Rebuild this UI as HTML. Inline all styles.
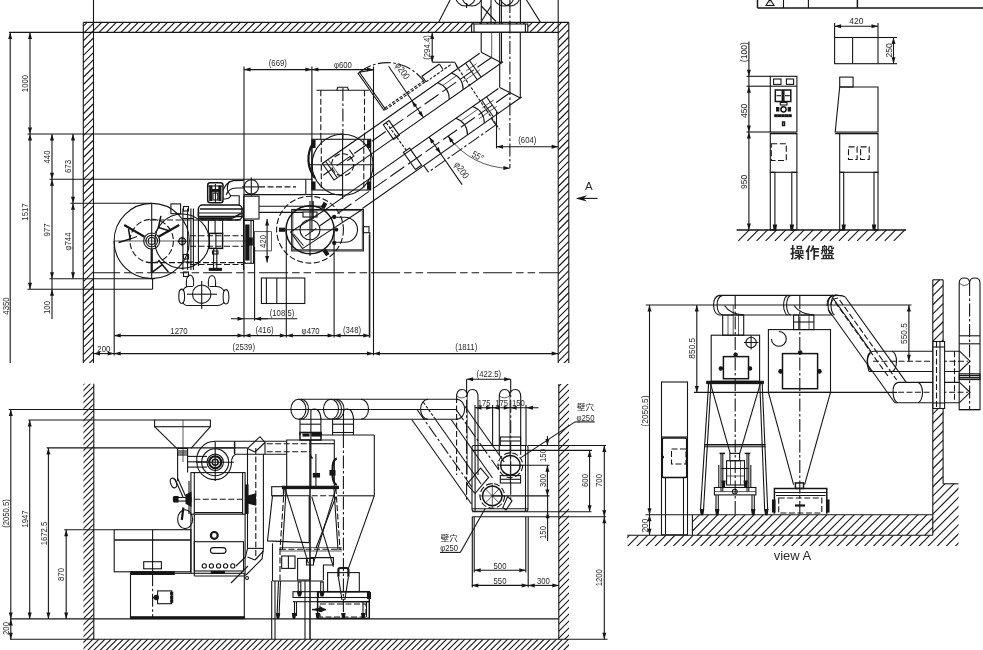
<!DOCTYPE html>
<html lang="ja"><head><meta charset="utf-8"><title>layout</title><style>
html,body{margin:0;padding:0;background:#fff}
svg{display:block;font-size:8px;will-change:transform}
path,rect,circle,ellipse{fill:none;stroke:#161616;stroke-width:1.1}
text{font-family:"Liberation Sans","Noto Sans CJK JP",sans-serif;fill:#2a2a2a;text-anchor:middle}
.a{fill:#161616;stroke:none}
.h{stroke-width:1.1}
.t{stroke-width:.7}
.b{stroke-width:1.5}
.bb{stroke-width:2.2}
.k{fill:#161616}
.d{stroke-dasharray:6 2.5}
.dd{stroke-dasharray:3 1.5}
.cl{stroke-dasharray:13 2.5 2.5 2.5}
.c2{stroke-dasharray:17 4.5}
.w{fill:#fff}
.m{font-weight:700;letter-spacing:.9px}
</style></head><body>
<svg width="983" height="650" viewBox="0 0 983 650">
<g style="font-size:9.6px">
<clipPath id="c1"><path d="M83.3 22.4L568.8 22.4L568.8 32.4L83.3 32.4Z"/></clipPath>
<path d="M68.8 33.4L80.8 21.4M76.1 33.4L88.1 21.4M83.4 33.4L95.4 21.4M90.7 33.4L102.7 21.4M98 33.4L110 21.4M105.3 33.4L117.3 21.4M112.6 33.4L124.6 21.4M119.9 33.4L131.9 21.4M127.2 33.4L139.2 21.4M134.5 33.4L146.5 21.4M141.8 33.4L153.8 21.4M149.1 33.4L161.1 21.4M156.4 33.4L168.4 21.4M163.7 33.4L175.7 21.4M171 33.4L183 21.4M178.3 33.4L190.3 21.4M185.6 33.4L197.6 21.4M192.9 33.4L204.9 21.4M200.2 33.4L212.2 21.4M207.5 33.4L219.5 21.4M214.8 33.4L226.8 21.4M222.1 33.4L234.1 21.4M229.4 33.4L241.4 21.4M236.7 33.4L248.7 21.4M244 33.4L256 21.4M251.3 33.4L263.3 21.4M258.6 33.4L270.6 21.4M265.9 33.4L277.9 21.4M273.2 33.4L285.2 21.4M280.5 33.4L292.5 21.4M287.8 33.4L299.8 21.4M295.1 33.4L307.1 21.4M302.4 33.4L314.4 21.4M309.7 33.4L321.7 21.4M317 33.4L329 21.4M324.3 33.4L336.3 21.4M331.6 33.4L343.6 21.4M338.9 33.4L350.9 21.4M346.2 33.4L358.2 21.4M353.5 33.4L365.5 21.4M360.8 33.4L372.8 21.4M368.1 33.4L380.1 21.4M375.4 33.4L387.4 21.4M382.7 33.4L394.7 21.4M390 33.4L402 21.4M397.3 33.4L409.3 21.4M404.6 33.4L416.6 21.4M411.9 33.4L423.9 21.4M419.2 33.4L431.2 21.4M426.5 33.4L438.5 21.4M433.8 33.4L445.8 21.4M441.1 33.4L453.1 21.4M448.4 33.4L460.4 21.4M455.7 33.4L467.7 21.4M463 33.4L475 21.4M470.3 33.4L482.3 21.4M477.6 33.4L489.6 21.4M484.9 33.4L496.9 21.4M492.2 33.4L504.2 21.4M499.5 33.4L511.5 21.4M506.8 33.4L518.8 21.4M514.1 33.4L526.1 21.4M521.4 33.4L533.4 21.4M528.7 33.4L540.7 21.4M536 33.4L548 21.4M543.3 33.4L555.3 21.4M550.6 33.4L562.6 21.4M557.9 33.4L569.9 21.4M565.2 33.4L577.2 21.4M572.5 33.4L584.5 21.4" class="h" clip-path="url(#c1)"/>
<clipPath id="c2"><path d="M83.3 32.4L93.5 32.4L93.5 363L83.3 363Z"/></clipPath>
<path d="M-254.5 364L78.1 31.4M-247.2 364L85.4 31.4M-239.9 364L92.7 31.4M-232.6 364L100 31.4M-225.3 364L107.3 31.4M-218 364L114.6 31.4M-210.7 364L121.9 31.4M-203.4 364L129.2 31.4M-196.1 364L136.5 31.4M-188.8 364L143.8 31.4M-181.5 364L151.1 31.4M-174.2 364L158.4 31.4M-166.9 364L165.7 31.4M-159.6 364L173 31.4M-152.3 364L180.3 31.4M-145 364L187.6 31.4M-137.7 364L194.9 31.4M-130.4 364L202.2 31.4M-123.1 364L209.5 31.4M-115.8 364L216.8 31.4M-108.5 364L224.1 31.4M-101.2 364L231.4 31.4M-93.9 364L238.7 31.4M-86.6 364L246 31.4M-79.3 364L253.3 31.4M-72 364L260.6 31.4M-64.7 364L267.9 31.4M-57.4 364L275.2 31.4M-50.1 364L282.5 31.4M-42.8 364L289.8 31.4M-35.5 364L297.1 31.4M-28.2 364L304.4 31.4M-20.9 364L311.7 31.4M-13.6 364L319 31.4M-6.3 364L326.3 31.4M1 364L333.6 31.4M8.3 364L340.9 31.4M15.6 364L348.2 31.4M22.9 364L355.5 31.4M30.2 364L362.8 31.4M37.5 364L370.1 31.4M44.8 364L377.4 31.4M52.1 364L384.7 31.4M59.4 364L392 31.4M66.7 364L399.3 31.4M74 364L406.6 31.4M81.3 364L413.9 31.4M88.6 364L421.2 31.4M95.9 364L428.5 31.4" class="h" clip-path="url(#c2)"/>
<clipPath id="c3"><path d="M558.2 32.4L568.8 32.4L568.8 363L558.2 363Z"/></clipPath>
<path d="M220 364L552.6 31.4M227.3 364L559.9 31.4M234.6 364L567.2 31.4M241.9 364L574.5 31.4M249.2 364L581.8 31.4M256.5 364L589.1 31.4M263.8 364L596.4 31.4M271.1 364L603.7 31.4M278.4 364L611 31.4M285.7 364L618.3 31.4M293 364L625.6 31.4M300.3 364L632.9 31.4M307.6 364L640.2 31.4M314.9 364L647.5 31.4M322.2 364L654.8 31.4M329.5 364L662.1 31.4M336.8 364L669.4 31.4M344.1 364L676.7 31.4M351.4 364L684 31.4M358.7 364L691.3 31.4M366 364L698.6 31.4M373.3 364L705.9 31.4M380.6 364L713.2 31.4M387.9 364L720.5 31.4M395.2 364L727.8 31.4M402.5 364L735.1 31.4M409.8 364L742.4 31.4M417.1 364L749.7 31.4M424.4 364L757 31.4M431.7 364L764.3 31.4M439 364L771.6 31.4M446.3 364L778.9 31.4M453.6 364L786.2 31.4M460.9 364L793.5 31.4M468.2 364L800.8 31.4M475.5 364L808.1 31.4M482.8 364L815.4 31.4M490.1 364L822.7 31.4M497.4 364L830 31.4M504.7 364L837.3 31.4M512 364L844.6 31.4M519.3 364L851.9 31.4M526.6 364L859.2 31.4M533.9 364L866.5 31.4M541.2 364L873.8 31.4M548.5 364L881.1 31.4M555.8 364L888.4 31.4M563.1 364L895.7 31.4M570.4 364L903 31.4" class="h" clip-path="url(#c3)"/>
<path d="M83.3 22.4L568.8 22.4"/>
<path d="M9 32.4L558.2 32.4"/>
<path d="M83.3 22.4L83.3 363"/>
<path d="M93.5 0L93.5 363"/>
<path d="M568.8 22.4L568.8 363"/>
<path d="M558.2 0L558.2 363"/>
<path d="M10.2 32.4L10.2 363"/>
<path d="M10.2 32.4L12.2 38.9L8.2 38.9Z" class="a"/>
<text transform="translate(8 306) rotate(-90) scale(0.81 1)" y="0.6">4350</text>
<path d="M30 32.4L30 134"/>
<path d="M30 32.4L32 38.9L28 38.9Z" class="a"/>
<path d="M30 134L28 127.5L32 127.5Z" class="a"/>
<text transform="translate(27.3 83.5) rotate(-90) scale(0.81 1)" y="0.6">1000</text>
<path d="M30 134L30 289.2"/>
<path d="M30 134L32 140.5L28 140.5Z" class="a"/>
<path d="M30 289.2L28 282.7L32 282.7Z" class="a"/>
<text transform="translate(27.3 212) rotate(-90) scale(0.81 1)" y="0.6">1517</text>
<path d="M52 134L52 179.3"/>
<path d="M52 134L54 140.5L50 140.5Z" class="a"/>
<path d="M52 179.3L50 172.8L54 172.8Z" class="a"/>
<text transform="translate(49.3 157) rotate(-90) scale(0.81 1)" y="0.6">440</text>
<path d="M52 179.3L52 278.8"/>
<path d="M52 179.3L54 185.8L50 185.8Z" class="a"/>
<path d="M52 278.8L50 272.3L54 272.3Z" class="a"/>
<text transform="translate(49.3 230) rotate(-90) scale(0.81 1)" y="0.6">977</text>
<path d="M52 278.8L52 319"/>
<path d="M52 289.2L54 295.7L50 295.7Z" class="a"/>
<text transform="translate(49.3 307.5) rotate(-90) scale(0.81 1)" y="0.6">100</text>
<path d="M73 134L73 203.3"/>
<path d="M73 134L75 140.5L71 140.5Z" class="a"/>
<path d="M73 203.3L71 196.8L75 196.8Z" class="a"/>
<text transform="translate(70.3 166.5) rotate(-90) scale(0.81 1)" y="0.6">673</text>
<path d="M73 203.3L73 278.8"/>
<path d="M73 203.3L75 209.8L71 209.8Z" class="a"/>
<path d="M73 278.8L71 272.3L75 272.3Z" class="a"/>
<text transform="translate(70.3 241.5) rotate(-90) scale(0.81 1)" y="0.6">φ744</text>
<path d="M27.5 134L343 134"/>
<path d="M49.5 179.3L312 179.3"/>
<path d="M70.5 203.3L151.7 203.3"/>
<path d="M49.5 278.8L155 278.8"/>
<path d="M27.5 289.2L152.6 289.2"/>
<path d="M152.6 278.8L152.6 289.2"/>
<path d="M114.2 241L114.2 355.5"/>
<path d="M244 66.6L244 337.5"/>
<path d="M254.6 247L254.6 320.5"/>
<path d="M286.3 230L286.3 337.5"/>
<path d="M334.1 230L334.1 337.5"/>
<path d="M369.8 232L369.8 337.5"/>
<path d="M373.5 66.5L373.5 355.5"/>
<path d="M114.2 335.6L244 335.6"/>
<path d="M114.2 335.6L120.7 333.6L120.7 337.6Z" class="a"/>
<path d="M244 335.6L237.5 337.6L237.5 333.6Z" class="a"/>
<text transform="translate(179 333.3) scale(0.81 1)" y="0.6">1270</text>
<path d="M244 335.6L286.3 335.6"/>
<path d="M244 335.6L250.5 333.6L250.5 337.6Z" class="a"/>
<path d="M286.3 335.6L279.8 337.6L279.8 333.6Z" class="a"/>
<text transform="translate(264.5 332.3) scale(0.81 1)" y="0.6">(416)</text>
<path d="M286.3 335.6L334.1 335.6"/>
<path d="M286.3 335.6L292.8 333.6L292.8 337.6Z" class="a"/>
<path d="M334.1 335.6L327.6 337.6L327.6 333.6Z" class="a"/>
<text transform="translate(310.6 333.3) scale(0.81 1)" y="0.6">φ470</text>
<path d="M334.1 335.6L369.8 335.6"/>
<path d="M334.1 335.6L340.6 333.6L340.6 337.6Z" class="a"/>
<path d="M369.8 335.6L363.3 337.6L363.3 333.6Z" class="a"/>
<text transform="translate(352 332.3) scale(0.81 1)" y="0.6">(348)</text>
<path d="M93.5 353.6L114.2 353.6"/>
<path d="M93.5 353.6L100 351.6L100 355.6Z" class="a"/>
<path d="M114.2 353.6L107.7 355.6L107.7 351.6Z" class="a"/>
<text transform="translate(103.8 351.5) scale(0.81 1)" y="0.6">200</text>
<path d="M114.2 353.6L373.5 353.6"/>
<path d="M114.2 353.6L120.7 351.6L120.7 355.6Z" class="a"/>
<path d="M373.5 353.6L367 355.6L367 351.6Z" class="a"/>
<text transform="translate(243.8 349.8) scale(0.81 1)" y="0.6">(2539)</text>
<path d="M373.5 353.6L558.2 353.6"/>
<path d="M373.5 353.6L380 351.6L380 355.6Z" class="a"/>
<path d="M558.2 353.6L551.7 355.6L551.7 351.6Z" class="a"/>
<text transform="translate(466.3 349.8) scale(0.81 1)" y="0.6">(1811)</text>
<path d="M231 318.8L267.6 318.8"/>
<path d="M244 318.8L237.5 320.8L237.5 316.8Z" class="a"/>
<path d="M254.6 318.8L261.1 316.8L261.1 320.8Z" class="a"/>
<path d="M254.6 318.8L297.3 318.8"/>
<text transform="translate(282 315.3) scale(0.81 1)" y="0.6">(108.5)</text>
<path d="M311.9 66.5L311.9 232"/>
<path d="M244 69.6L311.9 69.6"/>
<path d="M244 69.6L250.5 67.6L250.5 71.6Z" class="a"/>
<path d="M311.9 69.6L305.4 71.6L305.4 67.6Z" class="a"/>
<text transform="translate(277.8 65.7) scale(0.81 1)" y="0.6">(669)</text>
<path d="M311.9 69.6L373.5 69.6"/>
<path d="M311.9 69.6L318.4 67.6L318.4 71.6Z" class="a"/>
<path d="M373.5 69.6L367 71.6L367 67.6Z" class="a"/>
<text transform="translate(342.9 67.8) scale(0.81 1)" y="0.6">φ600</text>
<path d="M93.5 272.8H558.2" stroke-dasharray="29 4 7.5 4 7.5 4" stroke-dashoffset="2.4"/>
<path d="M578 198.4L597.5 198.4"/>
<path d="M575.7 198.4L587 195.2L583.5 198.4L587 201.6Z" class="a"/>
<text transform="translate(588.9 189.8)" style="font-size:11.5px">A</text>
<rect x="471.6" y="24" width="56.2" height="8.1" class="w"/>
<path d="M474 24L474 32.1"/>
<path d="M525.4 24L525.4 32.1"/>
<path d="M481.2 32.4L481.2 52.3"/>
<path d="M501.5 32.4L501.5 62.8"/>
<path d="M491.7 32.4L491.7 57.5" class="t"/>
<path d="M499.7 32.4L499.7 87.4"/>
<path d="M520.3 32.4L520.3 98"/>
<path d="M509.9 0L509.9 168" class="cl"/>
<path d="M481.2 52.3L501.5 62.8"/>
<path d="M499.7 87.4L520.3 98"/>
<path d="M479.7 53.3L322.4 163.5L334 180.1L503 61.8"/>
<path d="M491.4 57.5L323.3 175.2" class="c2"/>
<path d="M325.6 161.2L337.3 177.8"/>
<path d="M328.1 159.5L339.7 176.1" class="t"/>
<path d="M347.3 160.8L353.9 156.2L349.3 149.7"/>
<path d="M498.4 88.5L324 210.6"/>
<path d="M521.6 97L362.4 208.5"/>
<path d="M510 92.8L305.2 236.1" class="c2"/>
<path d="M451.5 73Q463.1 77.3 463.2 89.7"/>
<path d="M437.6 82.8Q449.2 87.1 449.3 99.4"/>
<path d="M456.9 75.5L443 85.3" class="t"/>
<path d="M472.6 106.5Q484.2 110.8 484.3 123.1"/>
<path d="M455.8 118.3Q467.4 122.6 467.5 134.9"/>
<path d="M478.1 109L461.3 120.8" class="t"/>
<path d="M469.5 60.5L481.1 77.1"/>
<path d="M465.6 63.2L477.3 79.8"/>
<path d="M476.6 63.6L466.2 70.9" class="t"/>
<path d="M479.8 69.9L462.8 81.8" class="t"/>
<path d="M486.5 96.8L498.1 113.5"/>
<path d="M481.7 100.2L493.4 116.8"/>
<path d="M493.6 100L482.3 107.9" class="t"/>
<path d="M496.8 106.3L478.9 118.8" class="t"/>
<path d="M399.4 135.4L393.6 139.4L383.3 124.7L389 120.6Z"/>
<path d="M421.5 165.2L415.4 169.5L403.4 152.4L409.6 148.1Z"/>
<path d="M491.2 118.3L495.9 124.9"/>
<path d="M423.8 165.5L428.4 172.1"/>
<path d="M495.9 124.9L428.4 172.1" class="cl"/>
<path d="M456 65.2L499.5 129.4" class="dd"/>
<path d="M386.2 122.7L406.5 150.6" class="dd"/>
<path d="M439.4 64L422 76.2L426 81.9"/>
<path d="M426 81.9L451.7 64" class="dd"/>
<path d="M439.4 64L443 69.5"/>
<path d="M432.2 62.2L454.8 62.2"/>
<path d="M454.8 62.2L457.8 67.7"/>
<path d="M385.7 109.6L425.3 81.8" class="dd"/>
<path d="M384.7 108.2L424.3 80.4" class="dd"/>
<path d="M432.2 32.4L432.2 62.2"/>
<path d="M432.2 32.4L434.2 38.9L430.2 38.9Z" class="a"/>
<path d="M432.2 62.2L430.2 55.7L434.2 55.7Z" class="a"/>
<text transform="translate(429.8 47.5) rotate(-90) scale(0.81 1)" y="0.6">(294.4)</text>
<path d="M359.5 72.3L385.4 109.2L384 110.2L358.1 73.3Z"/>
<path d="M359.5 72.3L373.5 69.6"/>
<path d="M359.5 72.3 A 45 45 0 0 1 424 81.5" class="cl"/>
<path d="M388.6 66.2L423.4 117.5"/>
<path d="M411.8 100.9L417.2 105L413.9 107.3Z" class="a"/>
<path d="M423.4 117.5L418.1 113.3L421.4 111Z" class="a"/>
<text transform="translate(400.3 72.3) rotate(55) scale(0.81 1)" y="0.6">φ200</text>
<path d="M429.1 137L462.1 184.6"/>
<path d="M429.1 137L434.5 141.2L431.2 143.4Z" class="a"/>
<path d="M440.8 153.6L435.4 149.4L438.7 147.1Z" class="a"/>
<text transform="translate(459.5 171.5) rotate(55) scale(0.81 1)" y="0.6">φ200</text>
<path d="M448.2 136.1 A 75.5 75.5 0 0 0 509.9 168.3" class="t"/>
<path d="M509.9 168.3L503.3 170L503.5 166Z" class="a"/>
<path d="M448.2 136.1L453.5 140.2L450.2 142.5Z" class="a"/>
<path d="M448.2 136.1L454.2 144.6"/>
<text transform="translate(476.5 158.5) rotate(28) scale(0.81 1)" y="0.6">55°</text>
<path d="M496.5 112L496.5 148.4"/>
<path d="M496.5 146.7L558.2 146.7"/>
<path d="M496.5 146.7L503 144.7L503 148.7Z" class="a"/>
<path d="M558.2 146.7L551.7 148.7L551.7 144.7Z" class="a"/>
<text transform="translate(527.3 142.6) scale(0.81 1)" y="0.6">(604)</text>
<path d="M450.1 0L438.5 22.4"/>
<path d="M526.5 0L540.5 22.4"/>
<circle cx="465.5" cy="-4" r="10"/>
<circle cx="472" cy="-4" r="10"/>
<circle cx="510" cy="-4" r="10"/>
<circle cx="504" cy="-4" r="10"/>
<path d="M481.3 0L481.3 24"/>
<path d="M491 0L491 24"/>
<path d="M499.6 0L499.6 24"/>
<path d="M501.4 0L501.4 24"/>
<path d="M520.4 0L520.4 24"/>
<path d="M466.6 3L466.6 8"/>
<path d="M481.3 6L496 21.5"/>
<path d="M491 6L481.3 21.5"/>
<circle cx="342.6" cy="164.7" r="30.5"/>
<rect x="311.9" y="139.3" width="58.8" height="50.7"/>
<path d="M321.3 139.3L321.3 190" class="d"/>
<path d="M363.8 139.3L363.8 190" class="d"/>
<path d="M342.6 134L342.6 199"/>
<path d="M309 164.7L373.5 164.7"/>
<circle cx="342.6" cy="164.7" r="11" class="d"/>
<path d="M313 143 A30.5 30.5 0 0 0 315 178" class="bb"/>
<rect x="312.4" y="140.3" width="2.6" height="7.2" class="k"/>
<rect x="367.6" y="140.3" width="2.6" height="7.2" class="k"/>
<rect x="312.4" y="182" width="2.6" height="7.3" class="k"/>
<rect x="367.6" y="182" width="2.6" height="7.3" class="k"/>
<path d="M316.5 90.2L368.8 90.2"/>
<path d="M320.8 90.2L320.8 139" class="d"/>
<path d="M364.5 90.2L364.5 139" class="d"/>
<path d="M342.9 88L342.9 139" class="cl"/>
<path d="M336.8 90.2 L337.8 87.3 L347.5 87.3 L348.5 90.2"/>
<rect x="291.7" y="209.5" width="71.7" height="41.4"/>
<rect x="292.9" y="210.7" width="69.3" height="39" class="t"/>
<circle cx="310" cy="229.7" r="24" class="b"/>
<circle cx="310" cy="229.7" r="33.4" class="d"/>
<circle cx="310" cy="229.7" r="10"/>
<path d="M279 229.7L337 229.7"/>
<path d="M310 201L310 256"/>
<path d="M333.9 217.2 L345 217.2 A12.5 12.5 0 0 1 345 242.2 L333.9 242.2"/>
<rect x="363.4" y="226.7" width="5.6" height="6"/>
<path d="M369.3 235L369.3 337.5"/>
<path d="M290.5 232L302.5 248.6L361.5 210"/>
<path d="M293.5 234L303.5 245.5"/>
<path d="M290.5 232L325.7 209.5"/>
<rect x="303" y="212" width="14" height="5"/>
<path d="M313 201L313 219" class="b"/>
<rect x="321.5" y="204" width="5" height="3" class="k" transform="rotate(300 324 205.5)"/>
<rect x="323.6" y="251.1" width="5" height="3" class="k" transform="rotate(55 326.1 252.6)"/>
<rect x="279.5" y="228.2" width="5" height="3" class="k" transform="rotate(180 282 229.7)"/>
<circle cx="334.2" cy="217" r="1.6" class="k"/>
<circle cx="334.2" cy="243" r="1.6" class="k"/>
<circle cx="336.5" cy="229.7" r="1.3" class="k"/>
<circle cx="151.7" cy="241" r="37.6"/>
<circle cx="182.1" cy="241.2" r="27.2"/>
<circle cx="151.7" cy="241" r="21.7" class="d"/>
<circle cx="151.7" cy="241" r="8"/>
<circle cx="151.7" cy="241" r="5.8"/>
<circle cx="151.7" cy="241" r="3.5"/>
<path d="M151.7 203.3L151.7 278.8"/>
<path d="M114 241L246 241" class="t"/>
<circle cx="182.1" cy="241.2" r="3.3"/>
<path d="M177.5 241.2L186.7 241.2"/>
<path d="M182.1 236.5L182.1 246"/>
<path d="M144.5 236.8L124.2 225" class="bb"/>
<path d="M158.5 236.8L179.2 225" class="bb"/>
<path d="M151.7 249L151.7 272.6" class="bb"/>
<path d="M128.5 229L130.2 239L118.5 242.5" class="b"/>
<path d="M130.2 239L137 236.5"/>
<path d="M160.9 215.9L158.4 227.5L170 231" class="b"/>
<path d="M158.4 227.5L155 233"/>
<path d="M158.4 260L168.4 272" class="b"/>
<path d="M151.7 272.6L162 264.8" class="b"/>
<rect x="170.9" y="203.9" width="9.7" height="9.8"/>
<path d="M182.9 208.4L182.9 270.1"/>
<path d="M187.6 208.4L187.6 270.1"/>
<path d="M190.9 208.4L190.9 270.1"/>
<path d="M193.4 208.4L193.4 270.1"/>
<rect x="183.5" y="206.5" width="5" height="4.5"/>
<rect x="183.5" y="254.5" width="5" height="4.5"/>
<rect x="183.5" y="272" width="5" height="4.5"/>
<path d="M182.9 218.5L193.4 218.5"/>
<path d="M182.9 262L193.4 262"/>
<path d="M150 220L246 220" class="d"/>
<path d="M152 262.6L246 262.6" class="d"/>
<path d="M190 264.5L243 264.5" class="d"/>
<path d="M190 235.7L243 235.7" class="d"/>
<path d="M190 246.3L243 246.3" class="d"/>
<rect x="198.4" y="205" width="43.6" height="15" rx="4" class="b"/>
<path d="M200 209L243.5 209" class="b"/>
<path d="M199 213L243.5 213"/>
<path d="M199 216.5L243.5 216.5" class="b"/>
<path d="M243.5 205L243.5 270"/>
<path d="M198.4 212L198.4 266"/>
<rect x="207.7" y="182.7" width="15.3" height="20" rx="2.5" class="b"/>
<rect x="209.8" y="186" width="2" height="14.5" class="k"/>
<rect x="218.9" y="186" width="2" height="14.5" class="k"/>
<rect x="211.8" y="189.5" width="7.1" height="1.8" class="k"/>
<path d="M215.4 184L215.4 203"/>
<path d="M208.1 186L223 186"/>
<rect x="213" y="193" width="4.8" height="7"/>
<path d="M199.5 218.3L232 218.3" class="bb"/>
<path d="M232 218.3L241 213.5" class="b"/>
<path d="M208.4 220L208.4 233.4"/>
<path d="M215.1 220L215.1 233.4"/>
<path d="M222.6 220L222.6 233.4"/>
<rect x="209.3" y="233.4" width="13.3" height="15" class="b"/>
<path d="M215.9 233.4L215.9 248.4"/>
<path d="M213.6 248.4L213.6 268.4"/>
<path d="M216.8 248.4L216.8 268.4"/>
<rect x="209.3" y="268.4" width="12.2" height="1.9" class="k"/>
<rect x="212.5" y="251" width="5.5" height="3"/>
<rect x="244" y="220.5" width="9.5" height="42.8"/>
<rect x="245.8" y="225" width="3.2" height="35" class="k"/>
<path d="M251 221L251 263"/>
<rect x="247.8" y="238" width="4.4" height="7" class="k"/>
<circle cx="251.3" cy="186.9" r="7.2"/>
<path d="M251.3 177.5L251.3 196.5"/>
<path d="M242 186.9L258 186.9"/>
<path d="M259 186.9L296 186.9" class="d"/>
<path d="M243.5 194.6L305.8 194.6"/>
<path d="M305.8 179.5L305.8 194.6"/>
<rect x="243.7" y="196.2" width="15.3" height="22.8"/>
<path d="M259 206.3L322 206.3"/>
<path d="M259 212.4L303 212.4"/>
<path d="M305.8 194.5L343 194.5"/>
<path d="M223 190.4 Q226 182.5 233 180.6 L243.8 180.4"/>
<path d="M226.2 195 Q228.5 188.3 236 188 L243.8 188"/>
<path d="M229.4 181.4 Q224.5 189 230.8 195.8 L239.2 195.8 L239.2 205.5"/>
<path d="M223 199 Q229 199.5 230.8 195.8"/>
<circle cx="201.7" cy="294.2" r="9.2"/>
<path d="M187 294.2L217 294.2"/>
<path d="M201.7 281L201.7 309"/>
<path d="M188 286.5 L193 286.5 M209.5 286.5 L217 286.5 Q222 287 224 291 M224 302 Q222 305.5 217 305.5 L187 305.5 Q183.5 305 183 302 M183 291 Q184 287 188 286.5"/>
<ellipse cx="181.7" cy="296.3" rx="2.9" ry="7.2"/>
<ellipse cx="226" cy="296.8" rx="2.9" ry="7.2"/>
<path d="M186.5 287 Q185.5 275.5 190 275 Q194.5 275.5 193.5 286"/>
<path d="M208.5 286.5 Q207.5 276 212 275.5 Q216.5 276 215.5 287"/>
<rect x="261.4" y="278" width="43.4" height="25.5"/>
<path d="M266.4 278L266.4 303.5"/>
<path d="M276.8 278L276.8 303.5"/>
<path d="M267.1 219L267.1 262.5"/>
<path d="M267.1 262.5L265.1 256L269.1 256Z" class="a"/>
<path d="M267.1 219L269.1 225.5L265.1 225.5Z" class="a"/>
<rect x="254.6" y="231.7" width="16.8" height="19.2" class="t"/>
<text transform="translate(265.8 241.5) rotate(-90) scale(0.81 1)" y="0.6">420</text>
</g>
<g style="font-size:9.4px">
<clipPath id="c4"><path d="M83.4 383.7L93.8 383.7L93.8 639.2L83.4 639.2Z"/></clipPath>
<path d="M-178.2 640.2L79.3 382.7M-172.2 640.2L85.3 382.7M-166.2 640.2L91.3 382.7M-160.2 640.2L97.3 382.7M-154.2 640.2L103.3 382.7M-148.2 640.2L109.3 382.7M-142.2 640.2L115.3 382.7M-136.2 640.2L121.3 382.7M-130.2 640.2L127.3 382.7M-124.2 640.2L133.3 382.7M-118.2 640.2L139.3 382.7M-112.2 640.2L145.3 382.7M-106.2 640.2L151.3 382.7M-100.2 640.2L157.3 382.7M-94.2 640.2L163.3 382.7M-88.2 640.2L169.3 382.7M-82.2 640.2L175.3 382.7M-76.2 640.2L181.3 382.7M-70.2 640.2L187.3 382.7M-64.2 640.2L193.3 382.7M-58.2 640.2L199.3 382.7M-52.2 640.2L205.3 382.7M-46.2 640.2L211.3 382.7M-40.2 640.2L217.3 382.7M-34.2 640.2L223.3 382.7M-28.2 640.2L229.3 382.7M-22.2 640.2L235.3 382.7M-16.2 640.2L241.3 382.7M-10.2 640.2L247.3 382.7M-4.2 640.2L253.3 382.7M1.8 640.2L259.3 382.7M7.8 640.2L265.3 382.7M13.8 640.2L271.3 382.7M19.8 640.2L277.3 382.7M25.8 640.2L283.3 382.7M31.8 640.2L289.3 382.7M37.8 640.2L295.3 382.7M43.8 640.2L301.3 382.7M49.8 640.2L307.3 382.7M55.8 640.2L313.3 382.7M61.8 640.2L319.3 382.7M67.8 640.2L325.3 382.7M73.8 640.2L331.3 382.7M79.8 640.2L337.3 382.7M85.8 640.2L343.3 382.7M91.8 640.2L349.3 382.7M97.8 640.2L355.3 382.7" class="h" clip-path="url(#c4)"/>
<clipPath id="c5"><path d="M558.8 384L569 384L569 639.2L558.8 639.2Z"/></clipPath>
<path d="M297.8 640.2L555 383M304.8 640.2L562 383M311.8 640.2L569 383M318.8 640.2L576 383M325.8 640.2L583 383M332.8 640.2L590 383M339.8 640.2L597 383M346.8 640.2L604 383M353.8 640.2L611 383M360.8 640.2L618 383M367.8 640.2L625 383M374.8 640.2L632 383M381.8 640.2L639 383M388.8 640.2L646 383M395.8 640.2L653 383M402.8 640.2L660 383M409.8 640.2L667 383M416.8 640.2L674 383M423.8 640.2L681 383M430.8 640.2L688 383M437.8 640.2L695 383M444.8 640.2L702 383M451.8 640.2L709 383M458.8 640.2L716 383M465.8 640.2L723 383M472.8 640.2L730 383M479.8 640.2L737 383M486.8 640.2L744 383M493.8 640.2L751 383M500.8 640.2L758 383M507.8 640.2L765 383M514.8 640.2L772 383M521.8 640.2L779 383M528.8 640.2L786 383M535.8 640.2L793 383M542.8 640.2L800 383M549.8 640.2L807 383M556.8 640.2L814 383M563.8 640.2L821 383M570.8 640.2L828 383" class="h" clip-path="url(#c5)"/>
<clipPath id="c6"><path d="M83.4 639.2L569 639.2L569 652L83.4 652Z"/></clipPath>
<path d="M66.8 653L81.6 638.2M72.9 653L87.7 638.2M79 653L93.8 638.2M85.1 653L99.9 638.2M91.2 653L106 638.2M97.3 653L112.1 638.2M103.4 653L118.2 638.2M109.5 653L124.3 638.2M115.6 653L130.4 638.2M121.7 653L136.5 638.2M127.8 653L142.6 638.2M133.9 653L148.7 638.2M140 653L154.8 638.2M146.1 653L160.9 638.2M152.2 653L167 638.2M158.3 653L173.1 638.2M164.4 653L179.2 638.2M170.5 653L185.3 638.2M176.6 653L191.4 638.2M182.7 653L197.5 638.2M188.8 653L203.6 638.2M194.9 653L209.7 638.2M201 653L215.8 638.2M207.1 653L221.9 638.2M213.2 653L228 638.2M219.3 653L234.1 638.2M225.4 653L240.2 638.2M231.5 653L246.3 638.2M237.6 653L252.4 638.2M243.7 653L258.5 638.2M249.8 653L264.6 638.2M255.9 653L270.7 638.2M262 653L276.8 638.2M268.1 653L282.9 638.2M274.2 653L289 638.2M280.3 653L295.1 638.2M286.4 653L301.2 638.2M292.5 653L307.3 638.2M298.6 653L313.4 638.2M304.7 653L319.5 638.2M310.8 653L325.6 638.2M316.9 653L331.7 638.2M323 653L337.8 638.2M329.1 653L343.9 638.2M335.2 653L350 638.2M341.3 653L356.1 638.2M347.4 653L362.2 638.2M353.5 653L368.3 638.2M359.6 653L374.4 638.2M365.7 653L380.5 638.2M371.8 653L386.6 638.2M377.9 653L392.7 638.2M384 653L398.8 638.2M390.1 653L404.9 638.2M396.2 653L411 638.2M402.3 653L417.1 638.2M408.4 653L423.2 638.2M414.5 653L429.3 638.2M420.6 653L435.4 638.2M426.7 653L441.5 638.2M432.8 653L447.6 638.2M438.9 653L453.7 638.2M445 653L459.8 638.2M451.1 653L465.9 638.2M457.2 653L472 638.2M463.3 653L478.1 638.2M469.4 653L484.2 638.2M475.5 653L490.3 638.2M481.6 653L496.4 638.2M487.7 653L502.5 638.2M493.8 653L508.6 638.2M499.9 653L514.7 638.2M506 653L520.8 638.2M512.1 653L526.9 638.2M518.2 653L533 638.2M524.3 653L539.1 638.2M530.4 653L545.2 638.2M536.5 653L551.3 638.2M542.6 653L557.4 638.2M548.7 653L563.5 638.2M554.8 653L569.6 638.2M560.9 653L575.7 638.2M567 653L581.8 638.2M573.1 653L587.9 638.2" class="h" clip-path="url(#c6)"/>
<path d="M93.8 383.7L93.8 639.2"/>
<path d="M558.8 384L558.8 639.2"/>
<path d="M10 639.2L607.5 639.2"/>
<path d="M10 618.9L558.8 618.9"/>
<path d="M10.8 409.5L10.8 618.9"/>
<path d="M10.8 409.5L12.8 416L8.8 416Z" class="a"/>
<path d="M10.8 618.9L8.8 612.4L12.8 612.4Z" class="a"/>
<path d="M10.8 618.9L10.8 639.2"/>
<path d="M10.8 618.9L12.8 625.4L8.8 625.4Z" class="a"/>
<path d="M10.8 639.2L8.8 632.7L12.8 632.7Z" class="a"/>
<path d="M29.7 420L29.7 618.9"/>
<path d="M29.7 420L31.7 426.5L27.7 426.5Z" class="a"/>
<path d="M29.7 618.9L27.7 612.4L31.7 612.4Z" class="a"/>
<path d="M48.4 447.9L48.4 618.9"/>
<path d="M48.4 447.9L50.4 454.4L46.4 454.4Z" class="a"/>
<path d="M48.4 618.9L46.4 612.4L50.4 612.4Z" class="a"/>
<path d="M66.2 529.7L66.2 618.9"/>
<path d="M66.2 529.7L68.2 536.2L64.2 536.2Z" class="a"/>
<path d="M66.2 618.9L64.2 612.4L68.2 612.4Z" class="a"/>
<text transform="translate(8.2 513.5) rotate(-90) scale(0.82 1)" y="0.6">(2050.5)</text>
<text transform="translate(27.6 519) rotate(-90) scale(0.82 1)" y="0.6">1947</text>
<text transform="translate(46 533.5) rotate(-90) scale(0.82 1)" y="0.6">1672.5</text>
<text transform="translate(63.8 574.5) rotate(-90) scale(0.82 1)" y="0.6">870</text>
<text transform="translate(8.2 628.5) rotate(-90) scale(0.82 1)" y="0.6">200</text>
<path d="M8.7 409.5L457 409.5"/>
<path d="M28.4 420L154.6 420"/>
<path d="M46.7 447.9L247.5 447.9"/>
<path d="M64.2 529.7L114.2 529.7"/>
<rect x="154.6" y="420" width="55.8" height="6.7"/>
<path d="M154.6 426.7L176.7 448.4"/>
<path d="M210.4 426.7L191 448.4"/>
<rect x="177.6" y="448.4" width="10" height="6.6"/>
<path d="M177.6 451L187.6 451"/>
<path d="M177.6 453L187.6 453"/>
<path d="M177.6 455L177.6 481"/>
<path d="M187.6 455L187.6 472.6"/>
<path d="M183 420L183 462" class="t"/>
<path d="M196.9 462.3 A18.3 18.3 0 0 1 215.2 441.3"/>
<path d="M196.9 462.3 A18.3 17.3 0 0 0 215.2 479.6 A16.3 17.3 0 0 0 231.5 462.3 Q231.5 456 236 454.2"/>
<circle cx="215.2" cy="462.3" r="13.5"/>
<circle cx="215.2" cy="462.3" r="6" class="bb"/>
<circle cx="215.2" cy="462.3" r="3" class="b"/>
<circle cx="215.2" cy="462.3" r="8.2"/>
<path d="M215.2 441.4L215.2 481"/>
<path d="M196 462.3L234 462.3"/>
<path d="M215.2 441.3L286.7 441.3"/>
<path d="M236 454.2L286.7 454.2"/>
<path d="M234.6 441.3L234.6 454.2" class="b"/>
<path d="M215 447.9L234.6 447.9"/>
<path d="M187.6 456.4L207 456.4"/>
<path d="M187.6 461.8L207 461.8"/>
<path d="M187.6 467.1L207 467.1"/>
<path d="M266.7 443.7L310 443.7" class="d"/>
<path d="M266.7 451.7L310 451.7" class="d"/>
<rect x="190.9" y="472.6" width="54.2" height="41.6"/>
<path d="M194.3 472.6L194.3 514.2"/>
<path d="M242.6 472.6L242.6 514.2"/>
<path d="M194.3 512.6L242.6 512.6"/>
<path d="M194.3 499.3L243 499.3" class="d"/>
<rect x="245.6" y="485" width="2.4" height="28.4" class="k"/>
<path d="M248 496L255.5 494L255.5 505L248 503Z" class="k"/>
<path d="M190.9 514.2L190.9 573"/>
<path d="M245.1 514.2L245.1 576"/>
<path d="M194.3 514.2L194.3 576"/>
<rect x="194.3" y="541.7" width="49.2" height="29.3"/>
<path d="M194.3 576L245.1 576"/>
<circle cx="214.3" cy="535.4" r="3.4" class="bb"/>
<rect x="210.4" y="547.6" width="15.6" height="5.8" rx="2.9"/>
<circle cx="204.3" cy="565.9" r="2.1"/>
<circle cx="211.4" cy="565.9" r="2.1"/>
<circle cx="218.6" cy="565.9" r="2.1"/>
<circle cx="225.6" cy="565.9" r="2.1"/>
<circle cx="232.8" cy="565.9" r="2.1"/>
<rect x="211.4" y="571.4" width="12.9" height="2" class="k"/>
<rect x="114.2" y="529.7" width="76.7" height="42.1"/>
<path d="M114.2 540L190.9 540" class="b"/>
<path d="M152.6 529.7L152.6 571.8"/>
<rect x="143.7" y="561.7" width="17.7" height="7.1"/>
<rect x="130.9" y="571.8" width="43.3" height="2.6" class="k"/>
<rect x="130.5" y="573.3" width="113.8" height="45.1"/>
<rect x="130.5" y="616.8" width="113.8" height="1.8" class="k"/>
<path d="M152.6 573.3L152.6 618.4" class="cl"/>
<rect x="157.6" y="590.9" width="14.1" height="12.8"/>
<circle cx="156.3" cy="597.5" r="2.1" class="k"/>
<path d="M152.6 597.5L157.6 597.5" class="b"/>
<rect x="170.7" y="592.3" width="2" height="2.4" class="k"/>
<rect x="170.7" y="596.1" width="2" height="2.4" class="k"/>
<rect x="170.7" y="599.8" width="2" height="2.4" class="k"/>
<ellipse cx="185.1" cy="519.2" rx="7.5" ry="9.4"/>
<path d="M183.4 507.5L181.8 520" class="bb"/>
<rect x="173.4" y="497.5" width="17.6" height="3.5"/>
<rect x="174" y="496.5" width="4" height="5.5" class="k"/>
<path d="M186 495L191 492.5L191 506L186 503.5Z" class="k"/>
<ellipse cx="173.5" cy="483" rx="2.8" ry="5" transform="rotate(-20 173.5 483)"/>
<path d="M175 479L183 497"/>
<path d="M177.5 478L185.5 496"/>
<path d="M189 481L189 514"/>
<path d="M247.5 448.4L247.5 548.4"/>
<path d="M255.8 448L255.8 556" class="d"/>
<path d="M263.4 454.2L263.4 548.4"/>
<path d="M247.5 448.4L260 436.7L265 442.5L265 454.2"/>
<path d="M247.5 448.4L255 452"/>
<path d="M255 452L265 442.5"/>
<path d="M247.5 548.4L263.4 548.4"/>
<path d="M263.4 548.4L262 559L246 575"/>
<path d="M247.5 548.4L245.5 557L236 566"/>
<path d="M247.5 557L255 560"/>
<path d="M255 560L263.4 551"/>
<path d="M231 583L248 566"/>
<circle cx="247" cy="578" r="1.5"/>
<path d="M298.4 399.2L458 399.2"/>
<path d="M298.4 419.2L458 419.2"/>
<ellipse cx="298.4" cy="409.2" rx="7.5" ry="10"/>
<ellipse cx="331" cy="409.2" rx="7.5" ry="10"/>
<path d="M301 399.2 A7.5 10 0 0 1 301 419.2"/>
<path d="M334 399.2 A7.5 10 0 0 1 334 419.2"/>
<path d="M336.5 399.2 A7.5 10 0 0 1 336.5 419.2"/>
<path d="M361 399.2 A7.5 10 0 0 1 361 419.2"/>
<path d="M300 419.2L300 435"/>
<path d="M310.9 410L310.9 435"/>
<path d="M320.9 418L320.9 435"/>
<path d="M310.9 410 Q314 408.5 317 409.5 Q320.5 412 320.9 419"/>
<path d="M300 424.2L320.9 424.2"/>
<path d="M300 432.5L320.9 432.5"/>
<path d="M332.6 419.2L332.6 435"/>
<path d="M343.5 410L343.5 435"/>
<path d="M353.5 418L353.5 435"/>
<path d="M343.5 410 Q346.6 408.5 349.6 409.5 Q353.1 412 353.5 419"/>
<path d="M332.6 424.2L353.5 424.2"/>
<path d="M332.6 432.5L353.5 432.5"/>
<rect x="300" y="432.5" width="21" height="7.5" class="b"/>
<rect x="312" y="433" width="9" height="3" class="k"/>
<rect x="303" y="434" width="6" height="2" class="k"/>
<path d="M310.9 435L310.9 486.8"/>
<path d="M310.9 435L374.3 435"/>
<path d="M374.3 435L374.3 495.8"/>
<path d="M374.3 495.8L348.4 568.4"/>
<path d="M311.7 495.8L343 495.8" class="d"/>
<path d="M343 495.8L374.3 495.8"/>
<path d="M343.4 435L343.4 618" class="cl"/>
<path d="M338.4 576.8 L338.4 570 Q338.4 568 340.4 568 L346.4 568 Q348.4 568 348.4 570 L348.4 576.8" class="bb"/>
<path d="M338.4 576.8L342 600"/>
<path d="M348.4 576.8L344.8 600"/>
<rect x="327.6" y="572.6" width="31.7" height="19.1"/>
<path d="M286.7 486.8L286.7 440L334.3 440L334.3 486.8"/>
<path d="M310.9 443.7L334.3 443.7"/>
<rect x="282.5" y="486.3" width="55.9" height="2.3" class="k"/>
<path d="M284.2 488L280 550" class="d"/>
<path d="M286.2 488L282.4 550"/>
<path d="M335.9 488L340 550" class="d"/>
<path d="M333.9 488L338 550"/>
<path d="M285 488.3L308.4 563.4"/>
<path d="M335.9 488.3L313.4 563.4"/>
<path d="M311.7 496.7L333.4 566.7"/>
<path d="M335.9 496.7L316 548"/>
<path d="M280 549.2L341.8 549.2" class="d"/>
<path d="M280 547.6L341.8 547.6" class="t"/>
<path d="M280 551L341.8 551" class="t"/>
<path d="M310 440L310 639.2" class="b"/>
<path d="M315.9 454L315.9 486"/>
<rect x="313.4" y="473.5" width="6.1" height="3.5" class="k"/>
<path d="M310 455L312.5 458.5" class="b"/>
<path d="M336.8 458.4 Q332 460 332.6 472 Q332 483 336.8 485.1" class="bb"/>
<rect x="330" y="470.5" width="5" height="4.5" class="k"/>
<rect x="271.7" y="486.7" width="11.7" height="9.1"/>
<path d="M272.5 495.8L267.5 540.9L309.2 542.6L309.2 495.8Z"/>
<path d="M272.5 543.4L272.5 581"/>
<path d="M272.5 581L323.4 581"/>
<path d="M280 549L280 581" class="d"/>
<rect x="281.7" y="556" width="13.3" height="12.4"/>
<path d="M288.4 556L288.4 568.4"/>
<rect x="297.6" y="558.4" width="12.4" height="21.6"/>
<path d="M310 557.6L333.4 557.6L333.4 565L323.4 565L323.4 580"/>
<rect x="306.5" y="558.4" width="7" height="6.6"/>
<path d="M271.7 581L271.7 639.2"/>
<path d="M275 581L275 639.2"/>
<path d="M305 581L305 639.2"/>
<path d="M278.5 581L277 616"/>
<path d="M280.5 581L279 616"/>
<rect x="293" y="591.7" width="25.4" height="5.8"/>
<path d="M293 601.7L318.4 601.7"/>
<path d="M294.5 601.7L294.5 616"/>
<path d="M296.5 601.7L296.5 616"/>
<rect x="298.2" y="582" width="2.6" height="10"/>
<path d="M297.5 592L301.5 592L300.5 596L298.5 596Z" class="k"/>
<rect x="320.7" y="582" width="2.6" height="10"/>
<path d="M320 592L324 592L323 596L321 596Z" class="k"/>
<rect x="317.6" y="591.7" width="51.7" height="26.7" class="b"/>
<rect x="317.6" y="591.7" width="51.7" height="5.8"/>
<path d="M318 601.7L369.3 601.7" class="b"/>
<rect x="320" y="604" width="46" height="13" class="d"/>
<path d="M363 602L363 617"/>
<path d="M366.5 602L366.5 617"/>
<rect x="367.5" y="592.5" width="3" height="6" class="k"/>
<path d="M314.2 609.5L321 607.5L325 609.5L321 611.7Z" class="k"/>
<path d="M312 609.6L326 609.6" class="b"/>
<path d="M276.4 613.5L279.6 613.5L278.8 618.5L277.2 618.5Z" class="k"/>
<path d="M292.4 613.5L295.6 613.5L294.8 618.5L293.2 618.5Z" class="k"/>
<path d="M316.2 613.5L319.4 613.5L318.6 618.5L317 618.5Z" class="k"/>
<path d="M341.8 613.5L345 613.5L344.2 618.5L342.6 618.5Z" class="k"/>
<path d="M361.6 613.5L364.8 613.5L364 618.5L362.4 618.5Z" class="k"/>
<path d="M428 399.2 A7.4 10.1 0 0 0 428 419.4"/>
<path d="M456.6 399.2 A8 10.1 0 0 1 456.6 419.4"/>
<path d="M411.7 419.5L471.5 504"/>
<path d="M417 409.5L471.8 487" class="cl"/>
<path d="M423.4 402.3L435.6 419.5" class="dd"/>
<path d="M435.5 419.5L481.1 484"/>
<path d="M451.1 419.5L492.5 478"/>
<path d="M456 409.5L498.8 470" class="cl"/>
<path d="M464.6 406L504.2 462"/>
<path d="M456.6 397 Q456.6 389.5 461.9 389.5 Q467.2 389.5 467.2 396 Q467.2 389.5 472.6 389.5 Q478 389.5 478 397"/>
<path d="M456.6 396 Q461.9 400 467.2 395.5" class="t"/>
<path d="M456.6 397L456.6 475" class="d"/>
<path d="M478 397L478 475"/>
<path d="M467.2 395.5L467.2 475" class="t"/>
<path d="M499.3 397 Q499.3 389.5 504.6 389.5 Q509.9 389.5 509.9 396 Q509.9 389.5 515.3 389.5 Q520.7 389.5 520.7 397"/>
<path d="M499.3 396 Q504.6 400 509.9 395.5" class="t"/>
<path d="M499.3 397L499.3 455"/>
<path d="M520.7 397L520.7 455"/>
<path d="M509.9 395.5L509.9 455" class="t"/>
<path d="M466.6 379.2L466.6 500" class="cl"/>
<path d="M510.7 379.2L510.7 500" class="cl"/>
<path d="M466.6 379.2L510.7 379.2"/>
<path d="M466.6 379.2L473.1 377.2L473.1 381.2Z" class="a"/>
<path d="M510.7 379.2L504.2 381.2L504.2 377.2Z" class="a"/>
<text transform="translate(488.8 376) scale(0.82 1)" y="0.6">(422.5)</text>
<path d="M475 405L475 445.5"/>
<path d="M492.6 405L492.6 445.5"/>
<path d="M526 405L526 445.5"/>
<path d="M475 407.7L538.5 407.7"/>
<path d="M475 407.7L481.5 405.7L481.5 409.7Z" class="a"/>
<path d="M492.6 407.7L486.1 409.7L486.1 405.7Z" class="a"/>
<path d="M492.6 407.7L499.1 405.7L499.1 409.7Z" class="a"/>
<path d="M510.2 407.7L503.7 409.7L503.7 405.7Z" class="a"/>
<path d="M526 407.7L533 405.7L533 409.7Z" class="a"/>
<path d="M510.2 407.7L516.7 405.7L516.7 409.7Z" class="a"/>
<text transform="translate(484.2 405.3) scale(0.82 1)" y="0.6">175</text>
<text transform="translate(501.6 405.3) scale(0.82 1)" y="0.6">175</text>
<text transform="translate(518.4 405.3) scale(0.82 1)" y="0.6">150</text>
<rect x="472" y="445.5" width="56" height="65.8" rx="2"/>
<path d="M472 450.4L528 450.4"/>
<path d="M475.1 445.5L475.1 511.3"/>
<path d="M525.5 445.5L525.5 511.3"/>
<path d="M472 508.8L528 508.8"/>
<circle cx="510.4" cy="465.2" r="9.8" class="b"/>
<circle cx="510.4" cy="465.2" r="12.3" class="d"/>
<path d="M497.4 465.2L523.4 465.2" class="t"/>
<path d="M510.4 452.2L510.4 478.2" class="t"/>
<circle cx="492.3" cy="495.9" r="9.8" class="b"/>
<circle cx="492.3" cy="495.9" r="12.3" class="d"/>
<path d="M479.3 495.9L505.3 495.9" class="t"/>
<path d="M492.3 482.9L492.3 508.9" class="t"/>
<rect x="500.3" y="475.6" width="20.3" height="7.4"/>
<path d="M500.3 479.3L520.6 479.3"/>
<path d="M510.4 475.6L510.4 483"/>
<rect x="500.3" y="437" width="20.3" height="8.5"/>
<path d="M500.3 441L520.6 441"/>
<path d="M467 484.2L480.6 468.2L488.6 477.4L475 493.5Z"/>
<path d="M502.8 507.6L507.7 496.5L512 500.8L506 510Z"/>
<path d="M485.5 489L499 502.8" class="t"/>
<path d="M499 489L485.5 502.8" class="t"/>
<path d="M528 445.5L606 445.5"/>
<path d="M528 450.4L592 450.4"/>
<path d="M472.3 511.8L591.5 511.8"/>
<path d="M472.3 516.8L606 516.8"/>
<path d="M500 465.2L549.5 465.2"/>
<path d="M492 495.9L549.5 495.9"/>
<path d="M589.6 450.4L589.6 511.8"/>
<path d="M589.6 450.4L591.6 456.9L587.6 456.9Z" class="a"/>
<path d="M589.6 511.8L587.6 505.3L591.6 505.3Z" class="a"/>
<path d="M604.3 445.5L604.3 516.8"/>
<path d="M604.3 445.5L606.3 452L602.3 452Z" class="a"/>
<path d="M604.3 516.8L602.3 510.3L606.3 510.3Z" class="a"/>
<path d="M604.3 516.8L604.3 639.2"/>
<path d="M604.3 516.8L606.3 523.3L602.3 523.3Z" class="a"/>
<path d="M604.3 639.2L602.3 632.7L606.3 632.7Z" class="a"/>
<path d="M547.4 436L547.4 445.5"/>
<path d="M547.4 445.5L545.4 439L549.4 439Z" class="a"/>
<path d="M547.4 465.2L549.4 471.7L545.4 471.7Z" class="a"/>
<path d="M547.4 465.2L547.4 495.9"/>
<path d="M547.4 495.9L545.4 489.4L549.4 489.4Z" class="a"/>
<path d="M547.6 495.9L547.6 541"/>
<path d="M547.6 511.8L549.6 518.3L545.6 518.3Z" class="a"/>
<text transform="translate(545 455.5) rotate(-90) scale(0.82 1)" y="0.6">150</text>
<text transform="translate(545 480.5) rotate(-90) scale(0.82 1)" y="0.6">300</text>
<text transform="translate(545 532.5) rotate(-90) scale(0.82 1)" y="0.6">150</text>
<text transform="translate(587.2 480.5) rotate(-90) scale(0.82 1)" y="0.6">600</text>
<text transform="translate(601.8 480.5) rotate(-90) scale(0.82 1)" y="0.6">700</text>
<text transform="translate(601.8 577.7) rotate(-90) scale(0.82 1)" y="0.6">1200</text>
<path d="M472.3 516.8L472.3 587.5"/>
<path d="M474.2 516.8L474.2 572.5"/>
<path d="M525.8 516.8L525.8 572.5"/>
<path d="M528.2 516.8L528.2 587.5"/>
<path d="M474.2 570.3L525.8 570.3"/>
<path d="M474.2 570.3L480.7 568.3L480.7 572.3Z" class="a"/>
<path d="M525.8 570.3L519.3 572.3L519.3 568.3Z" class="a"/>
<path d="M471.8 585.4L528.2 585.4"/>
<path d="M471.8 585.4L478.3 583.4L478.3 587.4Z" class="a"/>
<path d="M528.2 585.4L521.7 587.4L521.7 583.4Z" class="a"/>
<path d="M528.2 585.4L558.8 585.4"/>
<path d="M528.2 585.4L534.7 583.4L534.7 587.4Z" class="a"/>
<path d="M558.8 585.4L552.3 587.4L552.3 583.4Z" class="a"/>
<text transform="translate(500 568) scale(0.82 1)" y="0.6">500</text>
<text transform="translate(500 583) scale(0.82 1)" y="0.6">550</text>
<text transform="translate(543.4 583) scale(0.82 1)" y="0.6">300</text>
<text transform="translate(585.5 409.8)" style="font-size:8.5px">壁穴</text>
<text transform="translate(585.5 420) scale(0.82 1)" y="0.6">φ250</text>
<path d="M575 421.9L594.8 421.9"/>
<path d="M575 421.9L520.9 457.6"/>
<text transform="translate(449.2 540.5)" style="font-size:8.5px">壁穴</text>
<text transform="translate(449.2 550.5) scale(0.82 1)" y="0.6">φ250</text>
<path d="M440 552.4L460.3 552.4"/>
<path d="M460.3 552.4L485.2 508.5"/>
</g>
<g style="font-size:9.5px">
<path d="M757.5 8L983 8" class="b"/>
<path d="M757.5 0L757.5 8" class="b"/>
<path d="M783.5 0L783.5 8"/>
<path d="M808.4 0L808.4 8"/>
<path d="M857.4 0L857.4 8" class="b"/>
<path d="M770 -1L774 5.5L766 5.5Z"/>
<text transform="translate(770 5)" style="font-size:5px">!</text>
<path d="M834.6 23L834.6 37.5"/>
<path d="M878 23L878 37.5"/>
<path d="M834.6 26.2L878 26.2"/>
<path d="M834.6 26.2L841.1 24.2L841.1 28.2Z" class="a"/>
<path d="M878 26.2L871.5 28.2L871.5 24.2Z" class="a"/>
<text transform="translate(856.3 23.3) scale(0.90 1)" y="0.6">420</text>
<rect x="834.6" y="37.5" width="43.4" height="26.2"/>
<path d="M852.6 37.5L852.6 63.7"/>
<path d="M878 37.5L897 37.5"/>
<path d="M878 63.7L897 63.7"/>
<path d="M893.5 37.5L893.5 63.7"/>
<path d="M893.5 37.5L895.5 44L891.5 44Z" class="a"/>
<path d="M893.5 63.7L891.5 57.2L895.5 57.2Z" class="a"/>
<text transform="translate(891 50.5) rotate(-90) scale(0.90 1)" y="0.6">250</text>
<rect x="770.3" y="76.3" width="26.6" height="55.7"/>
<path d="M770.3 86.2L796.9 86.2"/>
<path d="M770.3 133.5L796.9 133.5" class="b"/>
<rect x="773.6" y="79" width="7.4" height="5.4"/>
<rect x="786.4" y="79" width="7.2" height="5.4"/>
<rect x="775.3" y="90" width="7" height="11.5" class="b"/>
<rect x="783.8" y="90" width="7" height="11.5" class="b"/>
<path d="M776.5 95.7L781 95.7"/>
<path d="M785 95.7L789.8 95.7"/>
<rect x="780.3" y="102.5" width="6.7" height="2.5"/>
<circle cx="783.5" cy="109.3" r="2.6" class="b"/>
<rect x="776.6" y="107.5" width="2.2" height="3.5" class="k"/>
<rect x="788.2" y="107.5" width="2.2" height="3.5" class="k"/>
<rect x="774.8" y="114.8" width="2.4" height="1.8" class="k"/>
<rect x="778.3" y="114.8" width="2.4" height="1.8" class="k"/>
<rect x="781.8" y="114.8" width="2.4" height="1.8" class="k"/>
<rect x="785.3" y="114.8" width="2.4" height="1.8" class="k"/>
<rect x="788.8" y="114.8" width="2.4" height="1.8" class="k"/>
<rect x="782.6" y="122" width="1.9" height="3.5" class="b"/>
<rect x="770.3" y="133.5" width="26.6" height="38.8"/>
<rect x="771.3" y="143.8" width="15" height="16.7" class="d"/>
<rect x="770.3" y="172.3" width="4.6" height="57.6"/>
<rect x="791.8" y="172.3" width="5.1" height="57.6"/>
<path d="M773.4 225L776.4 225L775.6 229.9L774.2 229.9Z" class="k"/>
<path d="M790.3 225L793.3 225L792.5 229.9L791.1 229.9Z" class="k"/>
<path d="M748.9 41.5L748.9 229.9"/>
<path d="M748.9 76.3L746.9 69.8L750.9 69.8Z" class="a"/>
<path d="M748.9 86.2L750.9 92.7L746.9 92.7Z" class="a"/>
<path d="M748.9 132L746.9 125.5L750.9 125.5Z" class="a"/>
<path d="M748.9 132L750.9 138.5L746.9 138.5Z" class="a"/>
<path d="M748.9 229.9L746.9 223.4L750.9 223.4Z" class="a"/>
<path d="M746.5 76.3L770.3 76.3"/>
<path d="M746.5 86.2L770.3 86.2"/>
<path d="M746.5 132L770.3 132"/>
<text transform="translate(746.3 52.2) rotate(-90) scale(0.90 1)" y="0.6">(100)</text>
<text transform="translate(746.3 111) rotate(-90) scale(0.90 1)" y="0.6">450</text>
<text transform="translate(746.3 182) rotate(-90) scale(0.90 1)" y="0.6">950</text>
<rect x="839.7" y="77.1" width="13.4" height="9.9"/>
<path d="M839.7 87L878 87L878 132L835.2 132Z"/>
<path d="M835.2 133.5L878 133.5" class="b"/>
<rect x="839.7" y="133.5" width="38.3" height="38.8"/>
<rect x="848.5" y="146.9" width="8.6" height="12.6" class="d"/>
<rect x="860.6" y="146.9" width="8.6" height="12.6" class="d"/>
<rect x="839.7" y="172.3" width="4" height="57.6"/>
<rect x="874" y="172.3" width="4" height="57.6"/>
<path d="M842.2 225L845.2 225L844.4 229.9L843 229.9Z" class="k"/>
<path d="M872.5 225L875.5 225L874.7 229.9L873.3 229.9Z" class="k"/>
<path d="M736.6 229.9L906.1 229.9" class="b"/>
<path d="M749.3 229.9L738.3 240.9M758.4 229.9L747.4 240.9M767.6 229.9L756.6 240.9M776.7 229.9L765.7 240.9M785.9 229.9L774.9 240.9M795 229.9L784 240.9M804.2 229.9L793.2 240.9M813.3 229.9L802.3 240.9M822.5 229.9L811.5 240.9M831.6 229.9L820.6 240.9M840.8 229.9L829.8 240.9M849.9 229.9L838.9 240.9M859.1 229.9L848.1 240.9M868.2 229.9L857.2 240.9M877.4 229.9L866.4 240.9M886.5 229.9L875.5 240.9M895.7 229.9L884.7 240.9M904.8 229.9L893.8 240.9" class="h"/>
<text transform="translate(812.8 258.3)" style="font-size:14.3px" class="m">操作盤</text>
</g>
<g style="font-size:9.6px">
<clipPath id="c7"><path d="M932.8 279.8L943.1 279.8L943.1 483.8L958.5 483.8L958.5 546L627 546L627 535.4L932.8 535.4Z"/></clipPath>
<path d="M353.9 547L622.1 278.8M363 547L631.2 278.8M372.1 547L640.3 278.8M381.2 547L649.4 278.8M390.3 547L658.5 278.8M399.4 547L667.6 278.8M408.5 547L676.7 278.8M417.6 547L685.8 278.8M426.7 547L694.9 278.8M435.8 547L704 278.8M444.9 547L713.1 278.8M454 547L722.2 278.8M463.1 547L731.3 278.8M472.2 547L740.4 278.8M481.3 547L749.5 278.8M490.4 547L758.6 278.8M499.5 547L767.7 278.8M508.6 547L776.8 278.8M517.7 547L785.9 278.8M526.8 547L795 278.8M535.9 547L804.1 278.8M545 547L813.2 278.8M554.1 547L822.3 278.8M563.2 547L831.4 278.8M572.3 547L840.5 278.8M581.4 547L849.6 278.8M590.5 547L858.7 278.8M599.6 547L867.8 278.8M608.7 547L876.9 278.8M617.8 547L886 278.8M626.9 547L895.1 278.8M636 547L904.2 278.8M645.1 547L913.3 278.8M654.2 547L922.4 278.8M663.3 547L931.5 278.8M672.4 547L940.6 278.8M681.5 547L949.7 278.8M690.6 547L958.8 278.8M699.7 547L967.9 278.8M708.8 547L977 278.8M717.9 547L986.1 278.8M727 547L995.2 278.8M736.1 547L1004.3 278.8M745.2 547L1013.4 278.8M754.3 547L1022.5 278.8M763.4 547L1031.6 278.8M772.5 547L1040.7 278.8M781.6 547L1049.8 278.8M790.7 547L1058.9 278.8M799.8 547L1068 278.8M808.9 547L1077.1 278.8M818 547L1086.2 278.8M827.1 547L1095.3 278.8M836.2 547L1104.4 278.8M845.3 547L1113.5 278.8M854.4 547L1122.6 278.8M863.5 547L1131.7 278.8M872.6 547L1140.8 278.8M881.7 547L1149.9 278.8M890.8 547L1159 278.8M899.9 547L1168.1 278.8M909 547L1177.2 278.8M918.1 547L1186.3 278.8M927.2 547L1195.4 278.8M936.3 547L1204.5 278.8M945.4 547L1213.6 278.8M954.5 547L1222.7 278.8M963.6 547L1231.8 278.8" class="h" clip-path="url(#c7)"/>
<clipPath id="c8"><path d="M692.4 514.7L932.8 514.7L932.8 535.2L692.4 535.2Z"/></clipPath>
<path d="M669 536.2L691.5 513.7M678.1 536.2L700.6 513.7M687.2 536.2L709.7 513.7M696.3 536.2L718.8 513.7M705.4 536.2L727.9 513.7M714.5 536.2L737 513.7M723.6 536.2L746.1 513.7M732.7 536.2L755.2 513.7M741.8 536.2L764.3 513.7M750.9 536.2L773.4 513.7M760 536.2L782.5 513.7M769.1 536.2L791.6 513.7M778.2 536.2L800.7 513.7M787.3 536.2L809.8 513.7M796.4 536.2L818.9 513.7M805.5 536.2L828 513.7M814.6 536.2L837.1 513.7M823.7 536.2L846.2 513.7M832.8 536.2L855.3 513.7M841.9 536.2L864.4 513.7M851 536.2L873.5 513.7M860.1 536.2L882.6 513.7M869.2 536.2L891.7 513.7M878.3 536.2L900.8 513.7M887.4 536.2L909.9 513.7M896.5 536.2L919 513.7M905.6 536.2L928.1 513.7M914.7 536.2L937.2 513.7M923.8 536.2L946.3 513.7M932.9 536.2L955.4 513.7" class="h" clip-path="url(#c8)"/>
<path d="M932.8 279.8L932.8 535.2"/>
<path d="M943.1 279.8L943.1 483.8"/>
<path d="M943.1 483.8L958.5 483.8"/>
<path d="M932.8 279.8L943.1 279.8"/>
<path d="M692.4 514.7L932.8 514.7"/>
<path d="M692.4 514.7L692.4 535.2"/>
<path d="M627.3 535.2L932.8 535.2"/>
<path d="M645.5 514.7L692.4 514.7"/>
<text transform="translate(792.5 560)" style="font-size:13px">view A</text>
<path d="M649.5 305L649.5 514.7"/>
<path d="M649.5 305L651.5 311.5L647.5 311.5Z" class="a"/>
<path d="M649.5 514.7L647.5 508.2L651.5 508.2Z" class="a"/>
<path d="M649.5 514.7L649.5 535.2"/>
<path d="M649.5 514.7L651.5 521.2L647.5 521.2Z" class="a"/>
<path d="M649.5 535.2L647.5 528.7L651.5 528.7Z" class="a"/>
<text transform="translate(647 411) rotate(-90) scale(0.87 1)" y="0.6">(2050.5)</text>
<text transform="translate(647 525.6) rotate(-90) scale(0.87 1)" y="0.6">200</text>
<path d="M645.8 305L911.5 305"/>
<path d="M696.8 305L696.8 392.4"/>
<path d="M696.8 305L698.8 311.5L694.8 311.5Z" class="a"/>
<path d="M696.8 392.4L694.8 385.9L698.8 385.9Z" class="a"/>
<text transform="translate(694.3 348.2) rotate(-90) scale(0.87 1)" y="0.6">850.5</text>
<path d="M693.9 392.4L897 392.4"/>
<path d="M908.9 305L908.9 361.2"/>
<path d="M908.9 305L910.9 311.5L906.9 311.5Z" class="a"/>
<path d="M908.9 361.2L906.9 354.7L910.9 354.7Z" class="a"/>
<text transform="translate(906.4 333.5) rotate(-90) scale(0.87 1)" y="0.6">550.5</text>
<path d="M719 295.4L838 295.4"/>
<path d="M719 315L832 315"/>
<path d="M719 295.4 Q713.3 297 713.6 305.5 Q714 314 719 315"/>
<path d="M722.5 295.4 Q716.8 297 717.1 305.5 Q717.5 314 722.5 315"/>
<path d="M788 295.4 A4.4 9.8 0 0 0 788 315"/>
<path d="M791 295.4 A4.4 9.8 0 0 0 791 315"/>
<path d="M833 295.4 A4.4 9.8 0 0 0 832 315"/>
<path d="M836.5 295.4 A4.4 9.8 0 0 0 834.5 315"/>
<rect x="722.7" y="315" width="21" height="20.2"/>
<path d="M733.2 305L733.2 335.2" class="t"/>
<path d="M728 315L728 335.2" class="t"/>
<path d="M738.5 315L738.5 335.2" class="t"/>
<path d="M724.5 305.5 Q730 314 743.7 315"/>
<rect x="793.6" y="315" width="20.3" height="14.6"/>
<path d="M798.5 315L798.5 329.6" class="t"/>
<path d="M809 315L809 329.6" class="t"/>
<path d="M793.6 322L813.9 322"/>
<path d="M794 305.5 Q800 314 813.9 315"/>
<rect x="711.2" y="335.2" width="48.4" height="46.1"/>
<rect x="723.4" y="356.6" width="25.1" height="22.1" class="b"/>
<circle cx="735.6" cy="354.8" r="1.7" class="k"/>
<circle cx="720.8" cy="368.4" r="1.7" class="k"/>
<circle cx="750" cy="368.4" r="1.7" class="k"/>
<circle cx="751.1" cy="342.5" r="5.2"/>
<path d="M744 342.5L758.5 342.5"/>
<path d="M751.1 335.5L751.1 349.5"/>
<rect x="706.8" y="381.3" width="56.5" height="2.3" class="k"/>
<path d="M708.6 383.6L700.5 510"/>
<path d="M711 383.6L703.5 510"/>
<path d="M762.2 383.6L767.7 510"/>
<path d="M759.8 383.6L764.7 510"/>
<path d="M710.5 383.6L730.2 453.4"/>
<path d="M760.3 383.6L739.8 453.4"/>
<path d="M704.5 444.8L765.5 444.8" class="b"/>
<path d="M704.5 446.8L765.5 446.8"/>
<path d="M735.2 296L735.2 515" class="cl"/>
<rect x="729.9" y="453.4" width="9.7" height="7.3"/>
<rect x="726.6" y="460.7" width="17.9" height="24.3"/>
<path d="M730.5 460.7L730.5 485" class="t"/>
<path d="M740.5 460.7L740.5 485" class="t"/>
<path d="M721 468.5L748.6 468.5"/>
<path d="M726.6 476L744.5 476" class="t"/>
<path d="M721 453.4L721 491.6"/>
<path d="M722.8 453.4L722.8 491.6"/>
<path d="M747 453.4L747 491.6"/>
<path d="M748.8 453.4L748.8 491.6"/>
<path d="M719.5 453.4L725 453.4" class="b"/>
<path d="M744.7 453.4L750.3 453.4" class="b"/>
<path d="M718.8 465L718.8 487.5"/>
<path d="M750.8 465L750.8 487.5"/>
<rect x="714.4" y="487.5" width="41.5" height="7.4"/>
<path d="M714.4 491.6L755.9 491.6" class="t"/>
<path d="M716 494.9L716 510"/>
<path d="M718.3 494.9L718.3 510"/>
<path d="M752 494.9L752 510"/>
<path d="M754.3 494.9L754.3 510"/>
<circle cx="734.8" cy="491.6" r="2.4"/>
<path d="M722 481L725 481L724.3 487.5L722.7 487.5Z" class="k"/>
<path d="M744.2 481L747.2 481L746.5 487.5L744.9 487.5Z" class="k"/>
<path d="M700.4 509.5L703.6 509.5L702.8 514.7L701.2 514.7Z" class="k"/>
<path d="M715.6 509.5L718.8 509.5L718 514.7L716.4 514.7Z" class="k"/>
<path d="M751.6 509.5L754.8 509.5L754 514.7L752.4 514.7Z" class="k"/>
<path d="M764.7 509.5L767.9 509.5L767.1 514.7L765.5 514.7Z" class="k"/>
<rect x="768.4" y="329.6" width="62.1" height="62.8"/>
<rect x="782.5" y="353.6" width="35.1" height="35.1" class="b"/>
<circle cx="800.2" cy="352.5" r="1.8" class="k"/>
<circle cx="780.6" cy="371.4" r="1.8" class="k"/>
<circle cx="819.4" cy="371.4" r="1.8" class="k"/>
<path d="M771.5 338.9 A7.4 7.4 0 1 0 778.8 331.5"/>
<path d="M768.4 392.4L793.6 484.7"/>
<path d="M830.5 392.4L804.6 484.7"/>
<path d="M799.8 296L799.8 515" class="cl"/>
<rect x="795.4" y="482.9" width="8.1" height="5.5" class="b"/>
<path d="M774.4 513.7L774.4 488.6L826.8 488.6L826.8 513.7" class="b"/>
<path d="M774.4 492.5L826.8 492.5"/>
<path d="M776 495.5L825.5 495.5"/>
<rect x="778.7" y="498" width="43.1" height="15" class="d"/>
<path d="M795 505.5L805 505.5" class="bb"/>
<rect x="772.5" y="500" width="2.5" height="12" class="k"/>
<rect x="826.5" y="500" width="2.5" height="12" class="k"/>
<rect x="661.5" y="382" width="26" height="152.8"/>
<path d="M661.5 437L687.5 437"/>
<path d="M661.5 477.5L687.5 477.5"/>
<rect x="662.3" y="438" width="24.4" height="39.5" rx="1.5" class="b"/>
<rect x="671.5" y="449" width="14.5" height="15" class="d"/>
<path d="M665.5 477.5L665.5 534.8"/>
<path d="M683.5 477.5L683.5 534.8"/>
<circle cx="662.5" cy="457" r="1" class="k"/>
<path d="M845.4 297.2L906.3 382.4"/>
<path d="M839.6 300L896.7 380" class="d"/>
<path d="M835 302L889.3 378" class="d"/>
<path d="M828 309.2L894.8 402.7"/>
<path d="M832.7 297.7L870.9 351.2"/>
<path d="M827 306 Q826.5 296 836 295.4 Q843 295 845.4 297.2"/>
<path d="M831 305 Q831 298.5 838 298"/>
<path d="M873 351.2L959.5 351.2"/>
<path d="M869 371.5L959.5 371.5"/>
<path d="M873 361.2L968 361.2" class="d"/>
<path d="M873 351.2 Q867 352 867.5 361 Q868 370.5 873 371.5"/>
<path d="M892 351.2 A5 10.2 0 0 1 892 371.5"/>
<path d="M870.5 353 Q864.5 358 869 371.5"/>
<path d="M898 382.4L959.5 382.4"/>
<path d="M894.5 402.7L959.5 402.7"/>
<path d="M898 392.3L968 392.3" class="d"/>
<path d="M898 382.4 Q892.5 384 893 392.5 Q893.5 401.5 898 402.7"/>
<path d="M918 382.4 A5 10.2 0 0 1 918 402.7"/>
<rect x="933" y="341.5" width="11.6" height="67" class="w"/>
<path d="M940 341.5L940 408.5"/>
<path d="M933 347L944.6 347"/>
<path d="M933 403L944.6 403"/>
<path d="M936.5 341.5L936.5 408.5" class="d"/>
<path d="M954.5 351.2L954.5 402.7" class="d"/>
<path d="M959.5 351.2L970 361.2L959.5 371.5"/>
<path d="M959.5 382.4L970 392.3L959.5 402.7"/>
<path d="M959.2 409.6 L959.2 283 Q959.2 278 964.4 278 Q969.6 278 969.6 283 Q969.6 278 974.8 278 Q980 278 980 283 L980 409.6 Z"/>
<path d="M959.2 283 Q964.4 288 969.6 283" class="t"/>
<path d="M969.6 283L969.6 409.6" class="cl"/>
<path d="M959.2 335.8L980 335.8"/>
<path d="M959.2 343.8L980 343.8"/>
<rect x="959.2" y="373.8" width="20.8" height="5.8"/>
<path d="M959.2 375.5L980 375.5" class="b"/>
<path d="M959.2 377.8L980 377.8" class="b"/>
<path d="M959.2 409.6L980 409.6"/>
</g>
</svg>
</body></html>
